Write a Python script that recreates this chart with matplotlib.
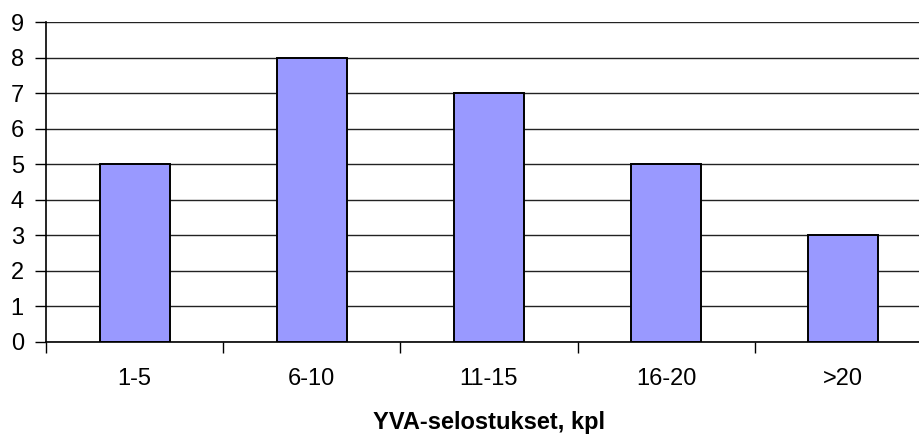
import matplotlib
matplotlib.use('Agg')
import matplotlib.pyplot as plt
import numpy as np

plt.rcParams['font.family'] = ['Liberation Sans', 'DejaVu Sans']

categories = ['1-5', '6-10', '11-15', '16-20', '>20']
counts = [5, 8, 7, 5, 3]
xlabel = 'YVA-selostukset, kpl'

fig = plt.figure(figsize=(9.2, 4.41), dpi=100)
ax = fig.add_axes([0.05, 0.2245, 0.963, 0.7255])

x = np.arange(len(categories))
ax.bar(x, counts, width=0.395, color='#9999FF', edgecolor='black', linewidth=1.4, zorder=3)

ax.set_xlim(-0.5, len(categories) - 0.5)
ax.set_ylim(0, 9)
ax.set_yticks(range(0, 10))
ax.yaxis.grid(True, color='#222222', linewidth=1.0, zorder=0)

ax.set_xticks(x)
ax.set_xticklabels(categories, fontsize=17)
ax.set_xticks(np.arange(len(categories) + 1) - 0.5, minor=True)
ax.tick_params(axis='x', which='major', length=0, pad=19)
ax.tick_params(axis='x', which='minor', length=8, width=1, direction='out')
ax.tick_params(axis='y', length=8, width=1, direction='out', labelsize=17, pad=8)

for s in ['top', 'right']:
    ax.spines[s].set_visible(False)
for s in ['left', 'bottom']:
    ax.spines[s].set_linewidth(1.2)
    ax.spines[s].set_zorder(4)

ax.set_xlabel(xlabel, fontsize=17, fontweight='bold', labelpad=15)

fig.savefig('out.png', dpi=100)
